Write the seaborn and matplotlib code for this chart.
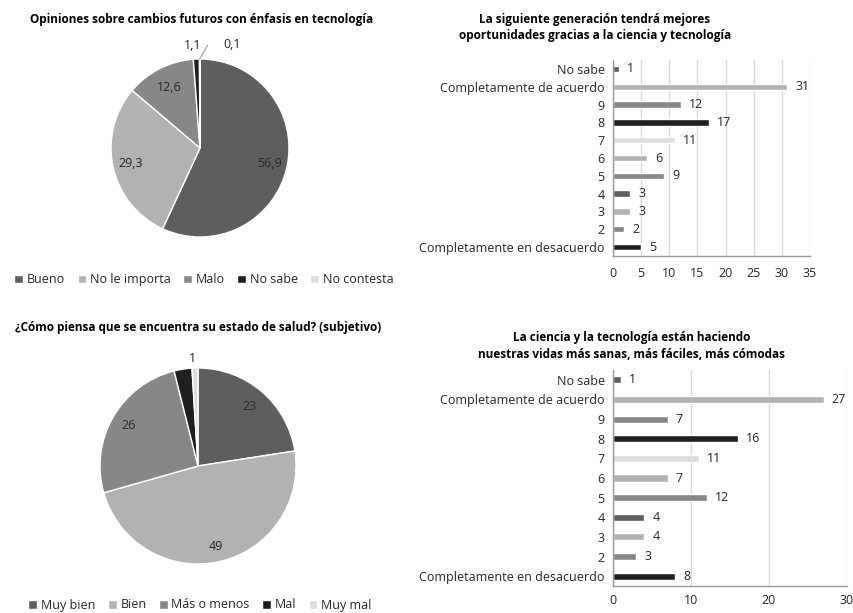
import numpy as np
import pandas as pd
import matplotlib
matplotlib.use("Agg")
import matplotlib.pyplot as plt
import seaborn as sns

# --- data ---
pie1_labels = ["Bueno", "No le importa", "Malo", "No sabe", "No contesta"]
pie1_values = [56.9, 29.3, 12.6, 1.1, 0.1]
pie1_text = ["56,9", "29,3", "12,6", "1,1", "0,1"]

pie2_labels = ["Muy bien", "Bien", "Más o menos", "Mal", "Muy mal"]
pie2_values = [23, 49, 26, 3, 1]

bar_categories = ["No sabe", "Completamente de acuerdo", "9", "8", "7", "6", "5",
                  "4", "3", "2", "Completamente en desacuerdo"]
bar1_values = [1, 31, 12, 17, 11, 6, 9, 3, 3, 2, 5]
bar2_values = [1, 27, 7, 16, 11, 7, 12, 4, 4, 3, 8]

DARK, LIGHT, MID, BLACK, VLIGHT = "#5e5e5e", "#b2b2b2", "#878787", "#1f1f1f", "#dcdcdc"
pie_colors = [DARK, LIGHT, MID, BLACK, VLIGHT]
bar_colors = [DARK, LIGHT, MID, BLACK, VLIGHT, LIGHT, MID, DARK, LIGHT, MID, BLACK]

sns.set_theme(style="white")
plt.rcParams["font.family"] = ["Open Sans", "DejaVu Sans"]
TXT = "#262626"

W, H = 854, 613
fig = plt.figure(figsize=(W / 100, H / 100), dpi=100)


def px_axes(x0, y0, x1, y1):
    # pixel box (top-left origin) -> figure axes
    return fig.add_axes([x0 / W, 1 - y1 / H, (x1 - x0) / W, (y1 - y0) / H])


def draw_pie(ax, values, texts, dists):
    wedges, _ = ax.pie(values, colors=pie_colors, startangle=90, counterclock=False,
                       wedgeprops=dict(edgecolor="white", linewidth=1.0))
    ax.set_xlim(-1, 1)
    ax.set_ylim(-1, 1)
    ax.set_aspect("equal")
    for w, t, d in zip(wedges, texts, dists):
        if d is None:
            continue
        ang = np.deg2rad((w.theta1 + w.theta2) / 2)
        ax.text(d[0] * np.cos(ang) + d[1], d[0] * np.sin(ang) + d[2], t,
                ha="center", va="center", fontsize=9, color=TXT, clip_on=False)
    return wedges


# --- top-left pie ---
ax1 = px_axes(111, 59, 289, 237)
w1 = draw_pie(ax1, pie1_values, pie1_text,
              [(0.8, 0, 0), (0.8, 0, 0), (0.76, 0, 0), (1.15, -0.04, 0), None])
ang = np.deg2rad((w1[4].theta1 + w1[4].theta2) / 2)
ax1.annotate("0,1", xy=(np.cos(ang), np.sin(ang)), xytext=(0.36, 1.16),
             fontsize=9, color=TXT, ha="center", va="center",
             arrowprops=dict(arrowstyle="-", color="#999999", lw=0.8,
                             connectionstyle="angle,angleA=0,angleB=60,rad=0",
                             shrinkA=9, shrinkB=0),
             annotation_clip=False)
fig.text(202 / W, 1 - 20 / H, "Opiniones sobre cambios futuros con énfasis en tecnología",
         ha="center", va="center", fontsize=8.5, fontweight="bold", color="black")
fig.legend(w1, pie1_labels, loc="center", bbox_to_anchor=(204 / W, 1 - 280 / H),
           ncol=5, frameon=False, fontsize=9, handlelength=0.7, handleheight=0.7,
           handletextpad=0.3, columnspacing=1.0, labelcolor=TXT)

# --- bottom-left pie ---
ax2 = px_axes(100, 368, 296, 564)
w2 = draw_pie(ax2, pie2_values, [str(v) for v in pie2_values],
              [(0.8, 0, 0), (0.84, 0, 0), (0.82, 0, 0), (0.83, 0, 0), (1.1, -0.02, 0)])
fig.text(198 / W, 1 - 327 / H, "¿Cómo piensa que se encuentra su estado de salud? (subjetivo)",
         ha="center", va="center", fontsize=8.5, fontweight="bold", color="black")
fig.legend(w2, pie2_labels, loc="center", bbox_to_anchor=(200 / W, 1 - 605 / H),
           ncol=5, frameon=False, fontsize=9, handlelength=0.7, handleheight=0.7,
           handletextpad=0.3, columnspacing=1.0, labelcolor=TXT)


def draw_bars(ax, values, xmax, step, xpad):
    df = pd.DataFrame({"cat": bar_categories, "val": values})
    sns.barplot(data=df, y="cat", x="val", hue="cat", palette=bar_colors,
                legend=False, width=0.36, ax=ax, saturation=1)
    for c in ax.containers:
        ax.bar_label(c, padding=6, fontsize=9, color=TXT)
    ax.set_xlim(0, xmax)
    ax.set_xticks(np.arange(0, xmax + 1, step))
    ax.set_xlabel("")
    ax.set_ylabel("")
    ax.grid(axis="x", color="#d9d9d9", lw=1)
    ax.set_axisbelow(True)
    for s in ["top", "right"]:
        ax.spines[s].set_visible(False)
    for s in ["left", "bottom"]:
        ax.spines[s].set_color("#999999")
        ax.spines[s].set_linewidth(1)
    ax.tick_params(axis="both", length=0, labelsize=9, colors=TXT, pad=6)
    ax.tick_params(axis="x", pad=xpad)
    ax.set_ylim(len(bar_categories) - 0.5, -0.5)


# --- top-right bars ---
ax3 = px_axes(613, 60, 810, 256)
draw_bars(ax3, bar1_values, 35, 5, 8)
fig.text(595 / W, 1 - 20 / H, "La siguiente generación tendrá mejores",
         ha="center", va="center", fontsize=8.5, fontweight="bold", color="black")
fig.text(595 / W, 1 - 36 / H, "oportunidades gracias a la ciencia y tecnología",
         ha="center", va="center", fontsize=8.5, fontweight="bold", color="black")

# --- bottom-right bars ---
ax4 = px_axes(613, 370, 847, 586)
draw_bars(ax4, bar2_values, 30, 10, 6)
fig.text(632 / W, 1 - 337 / H, "La ciencia y la tecnología están haciendo",
         ha="center", va="center", fontsize=8.5, fontweight="bold", color="black")
fig.text(632 / W, 1 - 355 / H, "nuestras vidas más sanas, más fáciles, más cómodas",
         ha="center", va="center", fontsize=8.5, fontweight="bold", color="black")

fig.savefig("out.png", dpi=100, facecolor="white")
